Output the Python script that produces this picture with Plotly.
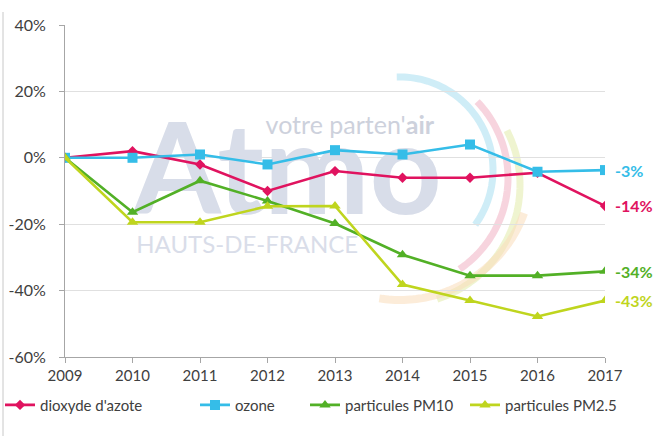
import numpy as np
import plotly.graph_objects as go

years = [2009, 2010, 2011, 2012, 2013, 2014, 2015, 2016, 2017]
no2 = [0, 2, -2, -10, -4, -6, -6, -4.5, -14.5]
ozone = [0, 0, 1, -2, 2.3, 1, 4, -4.2, -3.7]
pm10 = [0, -16.4, -6.9, -13, -19.8, -29.2, -35.5, -35.5, -34.2]
pm25 = [0, -19.4, -19.4, -14.6, -14.5, -38.2, -43, -47.8, -43]
names = ["dioxyde d'azote", "ozone", "particules PM10", "particules PM2.5"]
colors = ["#E0135F", "#35BDE8", "#52B026", "#BFD51E"]
symbols = ["diamond", "square", "triangle-up", "triangle-up"]
msizes = [8, 10, 10, 10]
end_labels = ["-14%", "-3%", "-34%", "-43%"]
y_ticks = [-60, -40, -20, 0, 20, 40]
y_tick_text = ["-60%", "-40%", "-20%", "0%", "20%", "40%"]

W, H = 662, 436
L, R, T, B = 65, 57, 25, 79
pw, ph = W - L - R, H - T - B


def px2paper(px, py):
    return (px - L) / pw, (H - B - py) / ph


fig = go.Figure()

# watermark (drawn first so it sits beneath the data lines)
fig.add_trace(go.Scatter(x=[2012.3], y=[-7.5], mode="text", text=["<b>Atmo</b>"],
                         textfont=dict(family="Lato", size=126, color="#D8DDE9"),
                         showlegend=False, hoverinfo="skip", cliponaxis=False))
fig.add_trace(go.Scatter(x=[2011.7], y=[-26.8], mode="text", text=["HAUTS-DE-FRANCE"],
                         textfont=dict(family="Lato", size=24, color="#D9DDE9"),
                         showlegend=False, hoverinfo="skip", cliponaxis=False))
fig.add_trace(go.Scatter(x=[2013.22], y=[9.0], mode="text", text=["votre parten'<b>air</b>"],
                         textfont=dict(family="Lato", size=25, color="#CDD1DC"),
                         showlegend=False, hoverinfo="skip", cliponaxis=False))

series = [no2, ozone, pm10, pm25]
legend_ids = ["legend", "legend2", "legend3", "legend4"]
for s, n, c, sym, ms, lg in zip(series, names, colors, symbols, msizes, legend_ids):
    fig.add_trace(go.Scatter(x=years, y=s, name=n, mode="lines+markers",
                             line=dict(color=c, width=2.6),
                             marker=dict(symbol=sym, size=ms, color=c), legend=lg))

for s, lab, c in zip(series, end_labels, colors):
    fig.add_annotation(x=years[-1], y=s[-1], text="<b>" + lab + "</b>", showarrow=False,
                       xanchor="left", xshift=8, font=dict(family="Lato", size=16, color=c))

# decorative arcs of the logo
arcs = [
    ((400, 170), 93, -92, 36, "rgba(160,220,240,0.5)", 7),
    ((398, 178), 110, -44, 56, "rgba(240,170,190,0.5)", 7),
    ((400, 185), 120, -27, 72, "rgba(225,235,170,0.55)", 7),
    ((400, 168), 132, 20, 99, "rgba(250,220,185,0.55)", 8),
]
shapes = []
for (cx, cy), r, a0, a1, col, w in arcs:
    ang = np.radians(np.linspace(a0, a1, 60))
    pts = [px2paper(cx + r * np.cos(a), cy + r * np.sin(a)) for a in ang]
    path = "M " + " L ".join(f"{x:.4f},{y:.4f}" for x, y in pts)
    shapes.append(dict(type="path", path=path, xref="paper", yref="paper",
                       line=dict(color=col, width=w), layer="below"))

# outer frame line at left
x0, y0 = px2paper(3, 12)
_, y1 = px2paper(3, H)
shapes.append(dict(type="line", xref="paper", yref="paper", x0=x0, x1=x0, y0=y0, y1=y1,
                   line=dict(color="#C8C8C8", width=1)))

legend_text_px = [38, 235, 345, 505]
legend_layout = {}
for lg, tx in zip(legend_ids, legend_text_px):
    lx, _ = px2paper(max(tx - 40, 0), 0)
    legend_layout[lg] = dict(orientation="h", x=lx, xanchor="left",
                             y=-0.145, yanchor="middle", bgcolor="rgba(0,0,0,0)",
                             font=dict(family="Lato", size=15, color="#404040"),
                             itemwidth=30)

fig.update_layout(
    width=W, height=H,
    margin=dict(l=L, r=R, t=T, b=B, autoexpand=False),
    paper_bgcolor="white", plot_bgcolor="white",
    font=dict(family="Lato", size=14, color="#404040"),
    shapes=shapes,
    showlegend=True,
    **legend_layout,
)
fig.update_xaxes(range=[2009, 2017], tickmode="array", tickvals=years,
                 ticks="outside", ticklen=5, tickcolor="#A6A6A6", automargin=False,
                 showline=True, linecolor="#A6A6A6", linewidth=1, showgrid=False,
                 zeroline=False, tickfont=dict(size=15, color="#404040"))
fig.update_yaxes(range=[-60, 40], tickmode="array", tickvals=y_ticks, ticktext=y_tick_text,
                 ticks="outside", ticklen=5, tickcolor="#A6A6A6", automargin=False,
                 showline=True, linecolor="#A6A6A6", linewidth=1,
                 showgrid=True, gridcolor="#E0E0E0", gridwidth=1, zeroline=False,
                 tickfont=dict(size=16, color="#404040"), ticklabelstandoff=10)

fig.write_html("out.html", post_script="document.body.style.margin='0';",
               config={"displayModeBar": False})
